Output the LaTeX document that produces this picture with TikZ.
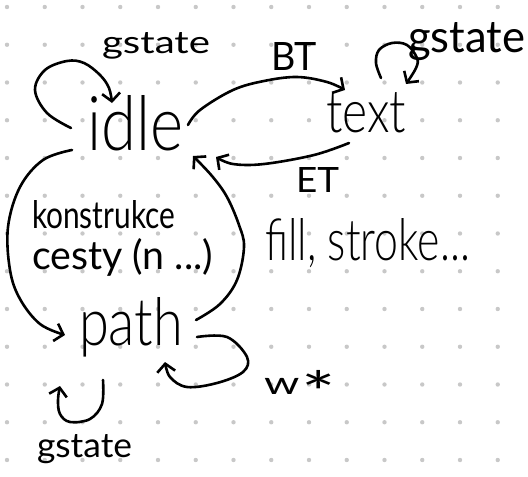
\documentclass[tikz,border=0pt]{standalone}
\usepackage{fontspec}
\setmainfont{Lato}[UprightFont={* Light}]
\newfontfamily\handreg{Lato}
\usetikzlibrary{arrows.meta,calc}
\definecolor{dotgray}{HTML}{C8C8C8}
\newcommand\fitbox[3]{\resizebox{#1pt}{#2pt}{#3}}
\begin{document}
\begin{tikzpicture}[x=1pt,y=-1pt,
  lbl/.style={anchor=base west, inner sep=0pt, outer sep=0pt},
  small/.style={lbl, font=\handreg},
  conn/.style={line width=2.6pt, line cap=round, line join=round},
  arr/.style={conn, -{Straight Barb[length=8pt,width=18pt]}}]
\fill[white] (0,0) rectangle (528,477);
\useasboundingbox (0,0) rectangle (528,477);
\foreach \i in {0,...,13}{\foreach \j in {0,...,12}{\fill[dotgray] ({7+37.75*\i},{7+37.75*\j}) circle (2.2pt);}}
% labels / states
\node[small] (gsA) at (102,53) {\fitbox{108}{21}{gstate}};
\node[lbl] (idle) at (87,150) {\fitbox{96}{55}{idle}};
\node[small] (bt) at (271,70) {\fitbox{46}{28}{BT}};
\node[lbl] (text) at (326,132) {\fitbox{80}{40}{text}};
\node[small] (gsB) at (408,52) {\fitbox{117}{30}{gstate}};
\node[small] (et) at (296,192) {\fitbox{43}{25}{ET}};
\node[small] (konst) at (32,228) {\fitbox{143}{28}{konstrukce}};
\node[small] (cesty) at (32,269) {\fitbox{181}{31}{cesty (n ...)}};
\node[lbl] (fill) at (265,260) {\fitbox{205}{42}{fill, stroke...}};
\node[lbl] (path) at (79,345) {\fitbox{104}{48}{path}};
\node[small] (wstar) at (264,394) {\fitbox{72}{24}{w\kern0.05em\raisebox{-0.6em}{\scalebox{1.8}{*}}}};
\node[small] (gsC) at (37,457) {\fitbox{95}{23}{gstate}};
% connector end points relative to nodes
\coordinate (iL1) at ([shift={(-16,-22)}]idle.base west);
\coordinate (iL2) at ([shift={(25,-47)}]idle.base west);
\coordinate (bt1) at ([shift={(101,-25)}]idle.base west);
\coordinate (bt2) at ([shift={(19,-42)}]text.base west);
\coordinate (tL1) at ([shift={(55,-54)}]text.base west);
\coordinate (tL2) at ([shift={(80,-48)}]text.base west);
\coordinate (et1) at ([shift={(23,11)}]text.base west);
\coordinate (et2) at ([shift={(129,7)}]idle.base west);
\coordinate (ip1) at ([shift={(-15,0)}]idle.base west);
\coordinate (ip2) at ([shift={(-14,-10)}]path.base west);
\coordinate (pi1) at ([shift={(117,-25)}]path.base west);
\coordinate (pi2) at ([shift={(106,6)}]idle.base west);
\coordinate (wL1) at ([shift={(118,-8)}]path.base west);
\coordinate (wL2) at ([shift={(86,17)}]path.base west);
\coordinate (pL1) at ([shift={(24,35)}]path.base west);
\coordinate (pL2) at ([shift={(-19,41)}]path.base west);
% connectors
\draw[arr] plot[smooth,tension=0.6] coordinates {(iL1) (47,113) (35,90) (45,70) (67,61) (84,63) (100,75) (109,88) (iL2)};
\draw[arr] plot[smooth,tension=0.6] coordinates {(bt1) (200,110) (233,90) (264,81) (297,77) (327,82) (bt2)};
\draw[arr] plot[smooth,tension=0.6] coordinates {(tL1) (376,63) (379,50) (392,43) (407,45) (417,58) (416,68) (tL2)};
\draw[arr] plot[smooth,tension=0.6] coordinates {(et1) (314,155) (264,164) (233,164) (et2)};
\draw[arr] plot[smooth,tension=0.6] coordinates {(ip1) (43,160) (20,187) (8,227) (10,270) (20,299) (40,324) (ip2)};
\draw[arr] plot[smooth,tension=0.6] coordinates {(pi1) (220,304) (237,280) (244,247) (239,225) (227,197) (212,176) (pi2)};
\draw[arr] plot[smooth,tension=0.6] coordinates {(wL1) (227,337) (247,357) (243,372) (217,383) (187,387) (170,377) (wL2)};
\draw[arr] plot[smooth,tension=0.6] coordinates {(pL1) (102,404) (90,419) (70,422) (60,414) (58,400) (pL2)};
\end{tikzpicture}
\end{document}
